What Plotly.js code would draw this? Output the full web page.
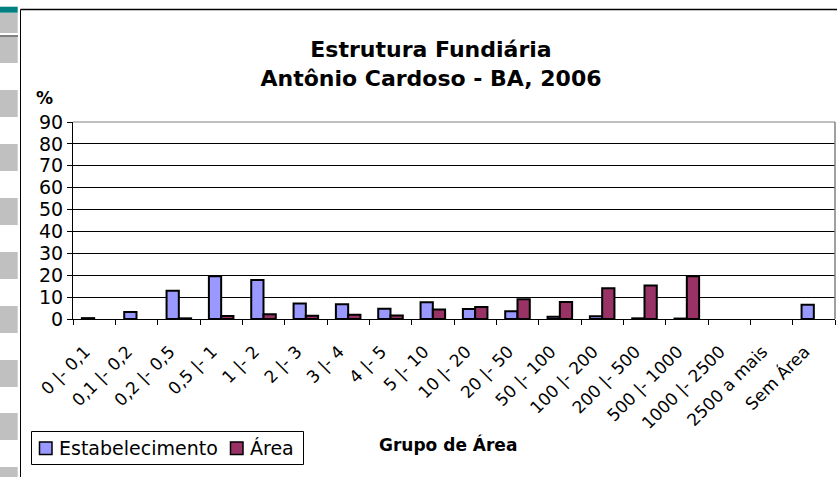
<!DOCTYPE html>
<html>
<head>
<meta charset="utf-8">
<script src="https://cdn.plot.ly/plotly-3.0.1.min.js"></script>
<style>html,body{margin:0;padding:0;background:#fff;}#chart{width:837px;height:477px;}</style>
</head>
<body>
<div id="chart"></div>
<script>
const categories = ["0 |- 0,1", "0,1 |- 0,2", "0,2 |- 0,5", "0,5 |- 1", "1 |- 2", "2 |- 3", "3 |- 4", "4 |- 5", "5 |- 10", "10 |- 20", "20 |- 50", "50 |- 100", "100 |- 200", "200 |- 500", "500 |- 1000", "1000 |- 2500", "2500 a mais", "Sem Área"];
const estabelecimento = [0.4, 3.2, 12.9, 19.5, 17.8, 7.1, 6.7, 4.7, 7.6, 4.6, 3.5, 1.0, 1.2, 0.3, 0.2, 0, 0, 6.5];
const area = [0, 0, 0.3, 1.4, 2.2, 1.5, 1.9, 1.6, 4.3, 5.5, 9.0, 7.8, 14.0, 15.3, 19.5, 0, 0, 0];
const yTicks = [0, 10, 20, 30, 40, 50, 60, 70, 80, 90];
const seriesNames = ["Estabelecimento", "Área"];
const seriesColors = ["#9999FF", "#993366"];

const W = 837, H = 477, L = 73, R = 2, T = 122, B = 158;
const pw = W - L - R, ph = H - T - B;
const px = x => (x - L) / pw;
const py = y => (H - B - y) / ph;
const FONT = 'DejaVu Sans';

const shapes = [];
// left page strip decorations
const grayBlocks = [[13,33],[37,63],[90,117],[144,171],[198,225],[252,279],[306,333],[360,387],[413,440],[467,477]];
grayBlocks.forEach(b => shapes.push({type:'rect', xref:'paper', yref:'paper', x0:px(0), x1:px(17.7), y0:py(b[1]), y1:py(b[0]), fillcolor:'#c0c0c0', line:{width:0}, layer:'below'}));
shapes.push({type:'rect', xref:'paper', yref:'paper', x0:px(0), x1:px(17.7), y0:py(12.7), y1:py(6.7), fillcolor:'#008080', line:{width:0}, layer:'below'});
shapes.push({type:'line', xref:'paper', yref:'paper', x0:px(0), x1:px(18), y0:py(36), y1:py(36), line:{color:'#000', width:1}});
// chart frame
shapes.push({type:'line', xref:'paper', yref:'paper', x0:px(20.5), x1:px(20.5), y0:py(9.5), y1:py(477), line:{color:'#000', width:1}});
shapes.push({type:'line', xref:'paper', yref:'paper', x0:px(20.5), x1:px(837), y0:py(9.5), y1:py(9.5), line:{color:'#000', width:1.5}});
// plot area border (top/right)
shapes.push({type:'line', xref:'paper', yref:'paper', x0:0, x1:1, y0:1, y1:1, line:{color:'#808080', width:1}});
shapes.push({type:'line', xref:'paper', yref:'paper', x0:1, x1:1, y0:0, y1:1, line:{color:'#808080', width:1.5}});
// legend box and keys
shapes.push({type:'rect', xref:'paper', yref:'paper', x0:px(31.5), x1:px(303.5), y0:py(464.5), y1:py(431.5), fillcolor:'#fff', line:{color:'#000', width:1}});
const keyX = [39.5, 230.5];
const textX = [57, 248];
keyX.forEach((k, i) => shapes.push({type:'rect', xref:'paper', yref:'paper', x0:px(k), x1:px(k + 12.5), y0:py(454.5), y1:py(442), fillcolor:seriesColors[i], line:{color:'#000', width:1.5}}));

const annotations = [
  {text:'<b>%</b>', xref:'paper', yref:'paper', x:px(44), y:py(98), xanchor:'center', yanchor:'middle', showarrow:false, font:{family:FONT, size:17, color:'#000'}},
  {text:'<b>Grupo de Área</b>', xref:'paper', yref:'paper', x:px(448), y:py(444), xanchor:'center', yanchor:'middle', showarrow:false, font:{family:FONT, size:17, color:'#000'}}
];
seriesNames.forEach((n, i) => annotations.push({text:n, xref:'paper', yref:'paper', x:px(textX[i]), y:py(448), xanchor:'left', yanchor:'middle', showarrow:false, font:{family:FONT, size:19, color:'#000'}}));

const toBar = v => (v === 0 ? null : v);
const traces = [
  {type:'bar', name:seriesNames[0], x:categories, y:estabelecimento.map(toBar), marker:{color:seriesColors[0], line:{color:'#000', width:2}}},
  {type:'bar', name:seriesNames[1], x:categories, y:area.map(toBar), marker:{color:seriesColors[1], line:{color:'#000', width:2}}}
];

const layout = {
  width: W, height: H,
  margin: {l:L, r:R, t:T, b:B, pad:0},
  paper_bgcolor:'#fff', plot_bgcolor:'#fff',
  font: {family: FONT, color:'#000'},
  title: {text:'<b>Estrutura Fundiária<br>Antônio Cardoso - BA, 2006</b>', font:{family:FONT, size:22, color:'#000'},
          x:431/W, xref:'container', xanchor:'center', y:1-57/H, yref:'container', yanchor:'middle'},
  barmode:'group', bargap:0.42, bargroupgap:0,
  showlegend:false,
  xaxis: {type:'category', tickson:'boundaries', ticks:'outside', ticklen:5, tickcolor:'#000', showline:true, linecolor:'#000', linewidth:1,
          tickangle:-45, tickfont:{family:FONT, size:17, color:'#000'}, ticklabelstandoff:15, ticklabelshift:-9,
          showgrid:false, automargin:false, fixedrange:true},
  yaxis: {range:[0,90], tickvals:yTicks, ticks:'outside', ticklen:5, tickcolor:'#000', showline:true, linecolor:'#000', linewidth:1,
          showgrid:true, gridcolor:'#000', gridwidth:1, zeroline:false, tickfont:{family:FONT, size:19, color:'#000'}, automargin:false, fixedrange:true},
  annotations: annotations,
  shapes: shapes
};

Plotly.newPlot('chart', traces, layout, {displayModeBar:false, staticPlot:true});
</script>
</body>
</html>
